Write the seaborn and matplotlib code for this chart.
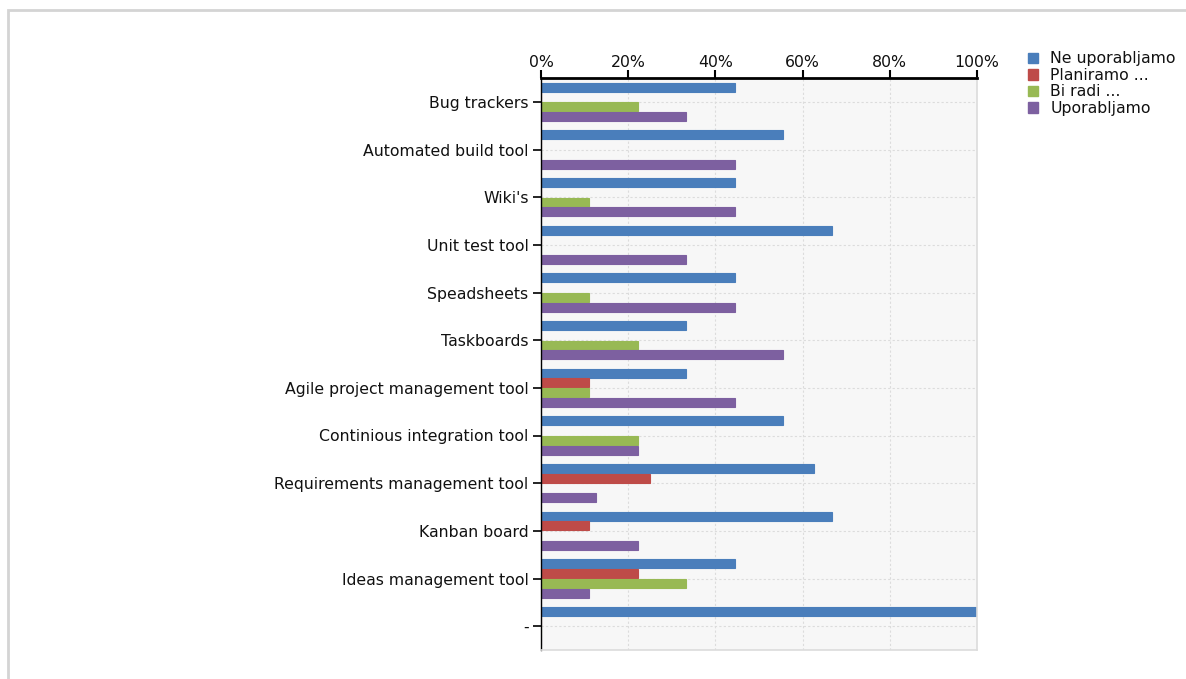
import pandas as pd
import seaborn as sns
import matplotlib.pyplot as plt
from matplotlib.patches import Patch, Rectangle
from matplotlib.ticker import PercentFormatter

# ============ DATA ============
tools = [
    "Bug trackers", "Automated build tool", "Wiki's", "Unit test tool",
    "Speadsheets", "Taskboards", "Agile project management tool",
    "Continious integration tool", "Requirements management tool",
    "Kanban board", "Ideas management tool", "-",
]
answers = ["Ne uporabljamo", "Planiramo ...", "Bi radi ...", "Uporabljamo"]

ne_uporabljamo = [44.4, 55.6, 44.4, 66.7, 44.4, 33.3, 33.3, 55.6, 62.5, 66.7, 44.4, 100.0]
planiramo      = [0.0, 0.0, 0.0, 0.0, 0.0, 0.0, 11.1, 0.0, 25.0, 11.1, 22.2, 0.0]
bi_radi        = [22.2, 0.0, 11.1, 0.0, 11.1, 22.2, 11.1, 22.2, 0.0, 0.0, 33.3, 0.0]
uporabljamo    = [33.3, 44.4, 44.4, 33.3, 44.4, 55.6, 44.4, 22.2, 12.5, 22.2, 11.1, 0.0]

colors = ["#4a7ebb", "#be4b48", "#98b954", "#7d60a0"]

# ============ LONG FORMAT ============
rows = []
for answer, vals in zip(answers, [ne_uporabljamo, planiramo, bi_radi, uporabljamo]):
    for tool, v in zip(tools, vals):
        rows.append({"tool": tool, "answer": answer, "pct": v})
df = pd.DataFrame(rows)

# ============ PLOT ============
sns.set_style("white")
plt.rcParams["font.family"] = ["DejaVu Sans"]
plt.rcParams["text.color"] = "#111111"
plt.rcParams["xtick.color"] = "#111111"
plt.rcParams["ytick.color"] = "#111111"

fig = plt.figure(figsize=(11.86, 6.79), dpi=100)
ax = fig.add_axes([541 / 1186, 1 - 650 / 679, 436 / 1186, 572 / 679])
ax.set_facecolor("#f7f7f7")

sns.barplot(
    data=df, y="tool", x="pct", hue="answer",
    order=tools, hue_order=answers, palette=colors,
    saturation=1, width=0.82, gap=0.08, orient="h",
    legend=False, ax=ax,
)

# thin edge so zero-valued bars still show as a line on the axis
for p in ax.patches:
    p.set_edgecolor(p.get_facecolor())
    p.set_linewidth(0.8)

ax.set_xlim(0, 100)
ax.set_ylim(len(tools) - 0.5, -0.5)
ax.set_xticks(range(0, 101, 20))
ax.xaxis.set_major_formatter(PercentFormatter(decimals=0))
ax.xaxis.tick_top()
ax.xaxis.set_label_position("top")
ax.set_xlabel("")
ax.set_ylabel("")

ax.tick_params(axis="x", top=True, direction="out", length=6, width=1.5,
               color="black", labelsize=11.3, pad=0)
ax.tick_params(axis="y", left=True, direction="out", length=6, width=1.2,
               color="black", labelsize=11.3, pad=3)

ax.grid(True, axis="both", color="#dcdcdc", linestyle=(0, (2, 2)), linewidth=0.8)
ax.set_axisbelow(True)

for side in ["top", "left"]:
    ax.spines[side].set_visible(True)
    ax.spines[side].set_color("black")
ax.spines["top"].set_linewidth(2)
ax.spines["left"].set_linewidth(1)
for side in ["right", "bottom"]:
    ax.spines[side].set_visible(True)
    ax.spines[side].set_color("#dcdcdc")
    ax.spines[side].set_linewidth(1.2)

# legend outside, top right
handles = [Patch(facecolor=c, edgecolor=c) for c in colors]
fig.legend(
    handles, answers, loc="upper left",
    bbox_to_anchor=(1022 / 1186, 1 - 45 / 679),
    frameon=False, fontsize=11.3, handlelength=0.65, handleheight=0.65,
    handletextpad=0.75, labelspacing=0.1, borderaxespad=0,
)

# light gray frame around the chart
fig.patches.append(Rectangle((8 / 1186, -0.1), 1.2, 1 - 10 / 679 + 0.1,
                             transform=fig.transFigure, fill=False,
                             edgecolor="#d4d4d4", linewidth=2))

fig.savefig("out.png", dpi=100, facecolor="white")
